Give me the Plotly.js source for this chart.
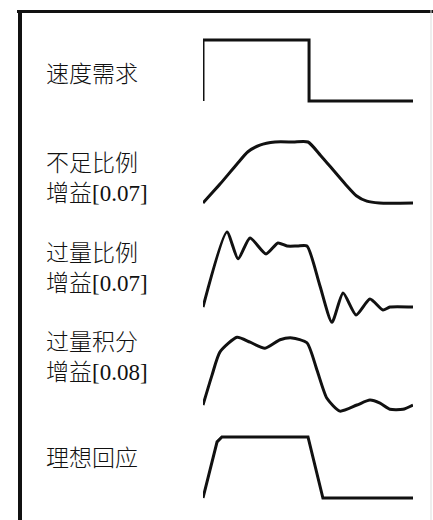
<!DOCTYPE html>
<html>
<head>
<meta charset="utf-8">
<script src="https://cdn.plot.ly/plotly-3.0.1.min.js"></script>
<style>
  html, body { margin: 0; padding: 0; background: #fff; }
  #chart { width: 433px; height: 520px; }
</style>
</head>
<body>
<div id="chart"></div>
<script>
// labels on the left, one per response
const labels = ["速度需求", "不足比例<br>增益[0.07]", "过量比例<br>增益[0.07]", "过量积分<br>增益[0.08]", "理想回应"];

// speed demand (step)
const demandT = [0, 0, 5.05, 5.05, 10];
const demandY = [0, 1, 1, 0, 0];

// under proportional gain
const underT = [0, 0.81, 1.62, 2.14, 2.71, 3.43, 4.3, 5.0, 5.6, 6.2, 6.8, 7.3, 7.8, 8.4, 10];
const underY = [0, 0.31, 0.64, 0.84, 0.95, 1.0, 1.0, 1.0, 0.78, 0.54, 0.30, 0.12, 0.03, 0, 0];

// over proportional gain
const overPT = [0, 1.14, 1.67, 2.24, 3.0, 3.57, 4.0, 4.5, 4.95, 5.55, 6.14, 6.67, 7.29, 7.95, 8.57, 8.9, 10];
const overPY = [0, 1.23, 0.79, 1.13, 0.87, 1.05, 1.0, 1.0, 1.0, 0.37, -0.25, 0.23, -0.13, 0.13, -0.05, 0, 0];

// over integral gain
const overIT = [0, 0.43, 0.81, 1.62, 2.24, 2.95, 3.67, 4.24, 4.95, 5.43, 5.9, 6.52, 7.33, 7.95, 8.43, 8.9, 9.52, 10];
const overIY = [0, 0.49, 0.87, 1.11, 1.03, 0.93, 1.07, 1.10, 1.02, 0.57, 0.11, -0.10, 0, 0.08, 0.03, -0.07, -0.07, 0];

// ideal response
const idealT = [0, 0.67, 0.9, 5.0, 5.71, 10];
const idealY = [0, 0.92, 1, 1, 0, 0];

const W = 433, H = 520;
const unit = 61;                       // pixels per response unit
const baselines = [101, 203, 307, 405, 498];
const labelY = [75, 178, 268, 357, 458];

const series = [
  { t: demandT, y: demandY, shape: "linear" },
  { t: underT, y: underY, shape: "spline" },
  { t: overPT, y: overPY, shape: "spline" },
  { t: overIT, y: overIY, shape: "spline" },
  { t: idealT, y: idealY, shape: "linear" },
];

const data = series.map((s, i) => ({
  x: s.t,
  y: s.y,
  type: "scatter",
  mode: "lines",
  xaxis: "x",
  yaxis: i === 0 ? "y" : "y" + (i + 1),
  line: { color: "#111", width: 3, shape: s.shape, smoothing: 0.6 },
  hoverinfo: "skip",
}));

const layout = {
  width: W,
  height: H,
  margin: { l: 0, r: 0, t: 0, b: 0 },
  paper_bgcolor: "#fff",
  plot_bgcolor: "rgba(0,0,0,0)",
  showlegend: false,
  xaxis: { domain: [203 / W, 413 / W], range: [0, 10], visible: false, fixedrange: true },
  annotations: labels.map((txt, i) => ({
    text: txt,
    xref: "paper", yref: "paper",
    x: 44 / W, y: 1 - labelY[i] / H,
    xanchor: "left", yanchor: "middle", align: "left",
    showarrow: false,
    font: { family: '"Liberation Serif", "Noto Sans CJK SC", serif', size: 23, color: "#111", weight: 300 },
  })),
  shapes: [
    { type: "line", xref: "paper", yref: "paper", x0: 17 / W, x1: 1, y0: 1 - 11.5 / H, y1: 1 - 11.5 / H, line: { color: "#111", width: 3 } },
    { type: "line", xref: "paper", yref: "paper", x0: 20 / W, x1: 20 / W, y0: 1 - 10 / H, y1: 0, line: { color: "#111", width: 4 } },
    { type: "line", xref: "paper", yref: "paper", x0: 431 / W, x1: 431 / W, y0: 1 - 10 / H, y1: 0, line: { color: "#ddd", width: 1 } },
  ],
};

baselines.forEach((b, i) => {
  const key = i === 0 ? "yaxis" : "yaxis" + (i + 1);
  layout[key] = {
    domain: [1 - (b + 0.3 * unit) / H, 1 - (b - 1.3 * unit) / H],
    range: [-0.3, 1.3],
    anchor: "x",
    visible: false,
    fixedrange: true,
  };
});

Plotly.newPlot("chart", data, layout, { staticPlot: true, displayModeBar: false });
</script>
</body>
</html>
